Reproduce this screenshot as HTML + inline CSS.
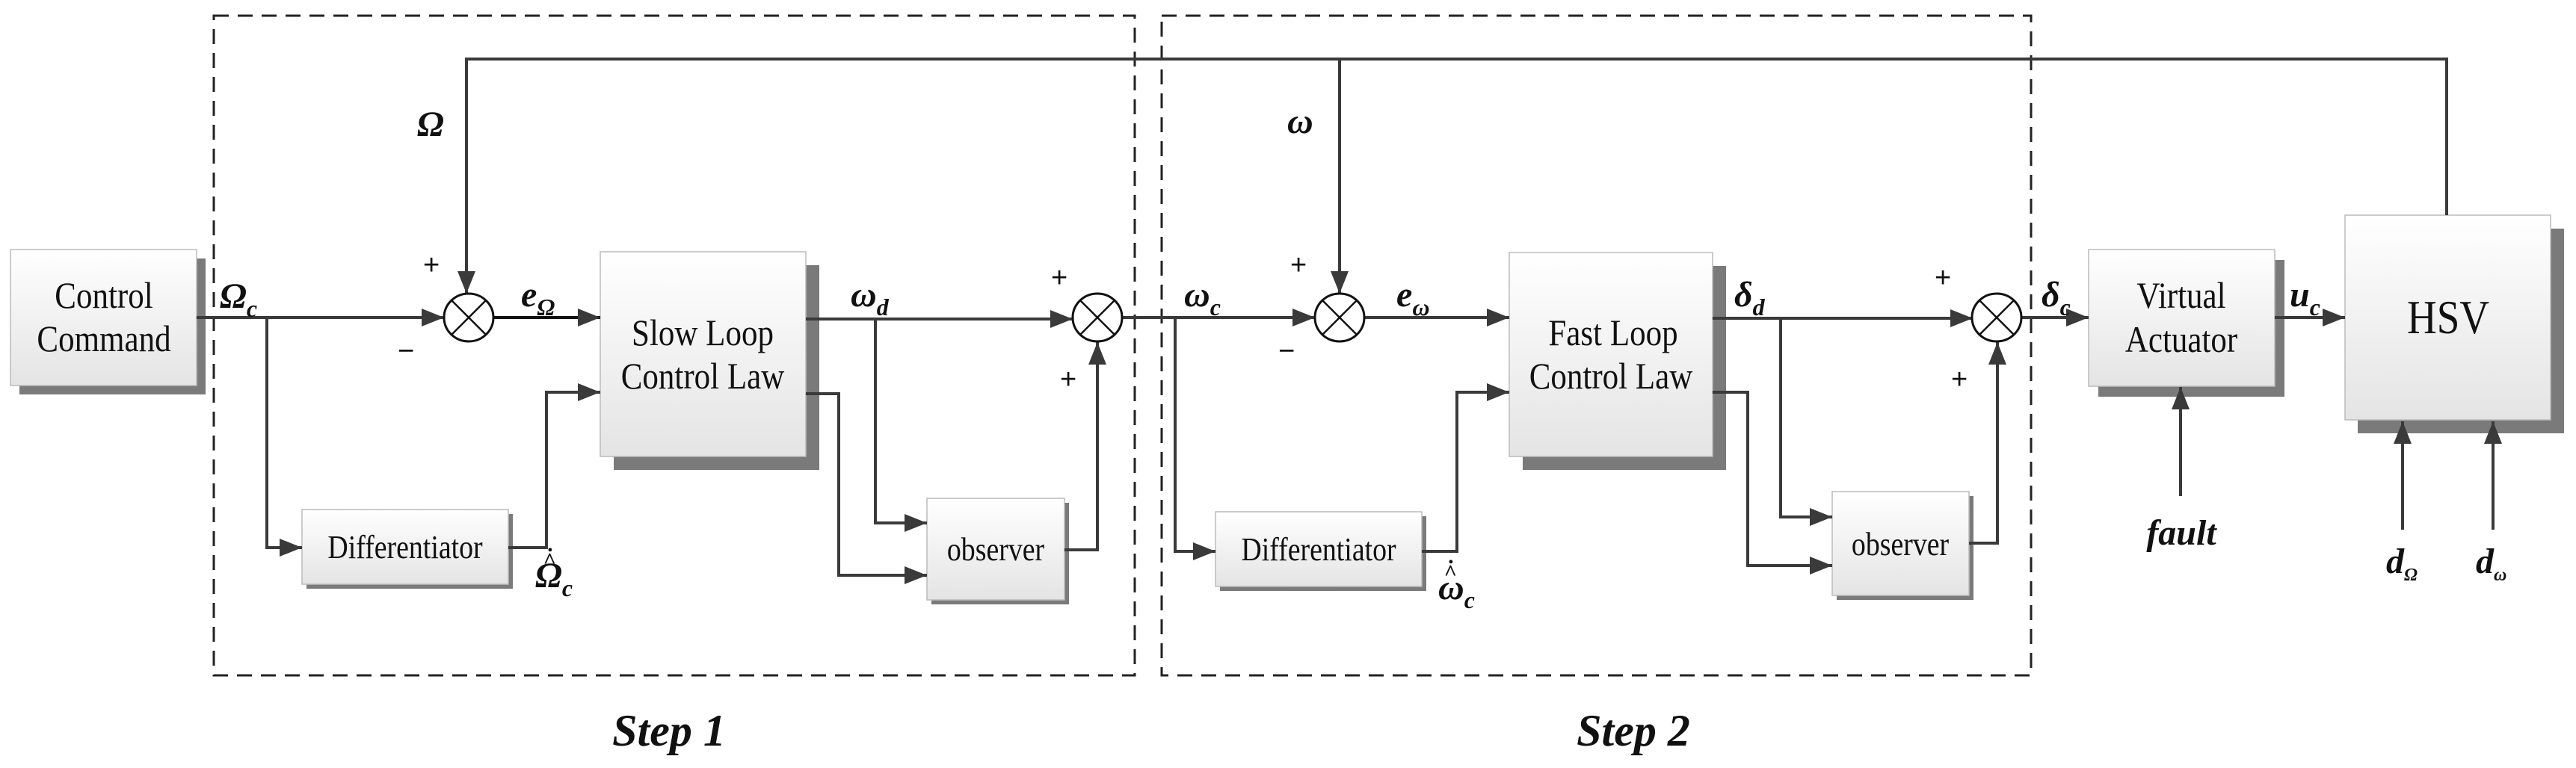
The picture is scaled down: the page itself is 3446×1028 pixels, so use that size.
<!DOCTYPE html>
<html><head><meta charset="utf-8"><style>
html,body{margin:0;padding:0;background:#fff;}
svg{display:block;}
.bt{font-family:"Liberation Serif",serif;font-size:50px;fill:#111;text-anchor:middle;transform-box:fill-box;transform-origin:center;transform:scaleX(0.86);}
.lb{font-family:"Liberation Serif",serif;font-size:48px;font-weight:bold;font-style:italic;fill:#111;}
.sb{font-family:"Liberation Serif",serif;font-size:32px;font-style:italic;fill:#111;}
.pm{font-family:"Liberation Sans",sans-serif;font-size:38px;fill:#111;}
</style></head><body>
<svg width="3446" height="1028" viewBox="0 0 3446 1028" xmlns="http://www.w3.org/2000/svg">
<defs>
<linearGradient id="g" x1="0" y1="0" x2="0" y2="1"><stop offset="0" stop-color="#ffffff"/><stop offset="1" stop-color="#e4e4e4"/></linearGradient>
<marker id="a" viewBox="0 0 30 24" refX="30" refY="12" markerWidth="30" markerHeight="24" markerUnits="userSpaceOnUse" orient="auto"><path d="M0,0 L30,12 L0,24 Z" fill="#3a3a3a"/></marker>
</defs>

<rect x="286" y="21" width="1232" height="883" fill="none" stroke="#222" stroke-width="3" stroke-dasharray="20 12"/>
<rect x="1554" y="21" width="1163" height="883" fill="none" stroke="#222" stroke-width="3" stroke-dasharray="20 12"/>

<g stroke="#bbb" stroke-width="1.5">
<rect x="26" y="346" width="249" height="182" fill="#7a7a7a" stroke="none"/>
<rect x="14" y="334" width="249" height="182" fill="url(#g)"/>
<rect x="821" y="355" width="275" height="274" fill="#7a7a7a" stroke="none"/>
<rect x="803" y="337" width="275" height="274" fill="url(#g)"/>
<rect x="410" y="688" width="276" height="100" fill="#7a7a7a" stroke="none"/>
<rect x="404" y="682" width="276" height="100" fill="url(#g)"/>
<rect x="1246" y="673" width="184" height="136" fill="#7a7a7a" stroke="none"/>
<rect x="1240" y="667" width="184" height="136" fill="url(#g)"/>
<rect x="1632" y="691" width="276" height="100" fill="#7a7a7a" stroke="none"/>
<rect x="1626" y="685" width="276" height="100" fill="url(#g)"/>
<rect x="2037" y="356" width="272" height="273" fill="#7a7a7a" stroke="none"/>
<rect x="2019" y="338" width="272" height="273" fill="url(#g)"/>
<rect x="2457" y="664" width="183" height="139" fill="#7a7a7a" stroke="none"/>
<rect x="2451" y="658" width="183" height="139" fill="url(#g)"/>
<rect x="2807" y="348" width="249" height="183" fill="#7a7a7a" stroke="none"/>
<rect x="2794" y="334" width="249" height="183" fill="url(#g)"/>
<rect x="3154" y="306" width="276" height="274" fill="#7a7a7a" stroke="none"/>
<rect x="3137" y="288" width="275" height="274" fill="url(#g)"/>
</g>

<g fill="none" stroke="#3a3a3a" stroke-width="4">
<polyline points="3273,288 3273,79 624,79 624,393" marker-end="url(#a)"/>
<polyline points="1792,79 1792,393" marker-end="url(#a)"/>
<line x1="263" y1="425" x2="594" y2="425" marker-end="url(#a)"/>
<polyline points="357,425 357,733 404,733" marker-end="url(#a)"/>
<line x1="661" y1="425" x2="803" y2="425" marker-end="url(#a)" stroke="#111"/>
<polyline points="680,733 731,733 731,525 803,525" marker-end="url(#a)"/>
<line x1="1078" y1="427" x2="1435" y2="427" marker-end="url(#a)"/>
<polyline points="1171,427 1171,700 1240,700" marker-end="url(#a)"/>
<polyline points="1078,527 1122,527 1122,770 1240,770" marker-end="url(#a)"/>
<polyline points="1424,736 1468,736 1468,458" marker-end="url(#a)"/>
<line x1="1502" y1="425" x2="1759" y2="425" marker-end="url(#a)"/>
<polyline points="1572,425 1572,738 1626,738" marker-end="url(#a)"/>
<line x1="1826" y1="425" x2="2019" y2="425" marker-end="url(#a)"/>
<polyline points="1902,738 1949,738 1949,525 2019,525" marker-end="url(#a)"/>
<line x1="2291" y1="426" x2="2639" y2="426" marker-end="url(#a)"/>
<polyline points="2382,426 2382,692 2451,692" marker-end="url(#a)"/>
<polyline points="2291,525 2338,525 2338,757 2451,757" marker-end="url(#a)"/>
<polyline points="2634,727 2672,727 2672,458" marker-end="url(#a)"/>
<line x1="2705" y1="425" x2="2794" y2="425" marker-end="url(#a)"/>
<line x1="3043" y1="425" x2="3137" y2="425" marker-end="url(#a)"/>
<line x1="2917" y1="664" x2="2917" y2="518" marker-end="url(#a)"/>
<line x1="3214" y1="709" x2="3214" y2="564" marker-end="url(#a)"/>
<line x1="3335" y1="709" x2="3335" y2="564" marker-end="url(#a)"/>
</g>

<g fill="#fff" stroke="#111" stroke-width="3">
<ellipse cx="627" cy="425" rx="33" ry="32"/>
<ellipse cx="1468" cy="425" rx="33" ry="32"/>
<ellipse cx="1792" cy="425" rx="33" ry="32"/>
<ellipse cx="2671" cy="425" rx="33" ry="32"/>
</g>
<g stroke="#111" stroke-width="2.5">
<path d="M604,402 L650,448 M650,402 L604,448"/>
<path d="M1445,402 L1491,448 M1491,402 L1445,448"/>
<path d="M1769,402 L1815,448 M1815,402 L1769,448"/>
<path d="M2648,402 L2694,448 M2694,402 L2648,448"/>
</g>

<text class="pm" x="566" y="367">+</text>
<text class="pm" x="532" y="482">−</text>
<text class="pm" x="1406" y="384">+</text>
<text class="pm" x="1418" y="520">+</text>
<text class="pm" x="1726" y="367">+</text>
<text class="pm" x="1710" y="482">−</text>
<text class="pm" x="2588" y="384">+</text>
<text class="pm" x="2610" y="520">+</text>

<text class="bt" x="139" y="412">Control</text>
<text class="bt" x="139" y="470">Command</text>
<text class="bt" x="940" y="462">Slow Loop</text>
<text class="bt" x="940" y="520">Control Law</text>
<text class="bt" x="2158" y="462">Fast Loop</text>
<text class="bt" x="2155" y="520">Control Law</text>
<text class="bt" x="542" y="747" style="font-size:44px">Differentiator</text>
<text class="bt" x="1764" y="750" style="font-size:44px">Differentiator</text>
<text class="bt" x="1332" y="750" style="font-size:44px">observer</text>
<text class="bt" x="2542" y="743" style="font-size:44px">observer</text>
<text class="bt" x="2918" y="412">Virtual</text>
<text class="bt" x="2918" y="471">Actuator</text>
<text class="bt" x="3275" y="446" style="font-size:64px">HSV</text>

<text class="lb" x="558" y="182">Ω</text>
<text class="lb" x="1722" y="178">ω</text>
<text class="lb" x="294" y="412">Ω<tspan class="sb" dy="12">c</tspan></text>
<text class="lb" x="697" y="410">e<tspan class="sb" dy="12" style="font-weight:bold">Ω</tspan></text>
<text class="lb" x="1138" y="410">ω<tspan class="sb" dy="12">d</tspan></text>
<text class="lb" x="1584" y="410">ω<tspan class="sb" dy="12">c</tspan></text>
<text class="lb" x="1868" y="410">e<tspan class="sb" dy="12">ω</tspan></text>
<text class="lb" x="2320" y="410">δ<tspan class="sb" dy="12">d</tspan></text>
<text class="lb" x="2731" y="410">δ<tspan class="sb" dy="12">c</tspan></text>
<text class="lb" x="3063" y="410">u<tspan class="sb" dy="12">c</tspan></text>
<text class="lb" x="716" y="786">Ω<tspan class="sb" dy="12">c</tspan></text>
<text class="lb" x="735" y="760" text-anchor="middle" style="font-size:30px">^</text>
<text class="lb" x="737" y="738" text-anchor="middle" style="font-size:30px">.</text>
<text class="lb" x="1924" y="802">ω<tspan class="sb" dy="12">c</tspan></text>
<text class="lb" x="1940" y="776" text-anchor="middle" style="font-size:30px">^</text>
<text class="lb" x="1942" y="754" text-anchor="middle" style="font-size:30px">.</text>
<text class="lb" x="2918" y="729" text-anchor="middle">fault</text>
<text class="lb" x="3192" y="767">d<tspan class="sb" dy="10" style="font-size:24px;font-weight:bold">Ω</tspan></text>
<text class="lb" x="3312" y="767">d<tspan class="sb" dy="10" style="font-size:24px;font-weight:bold">ω</tspan></text>

<text class="lb" x="895" y="998" text-anchor="middle" style="font-size:60px">Step  1</text>
<text class="lb" x="2185" y="998" text-anchor="middle" style="font-size:60px">Step  2</text>
</svg>
</body></html>
